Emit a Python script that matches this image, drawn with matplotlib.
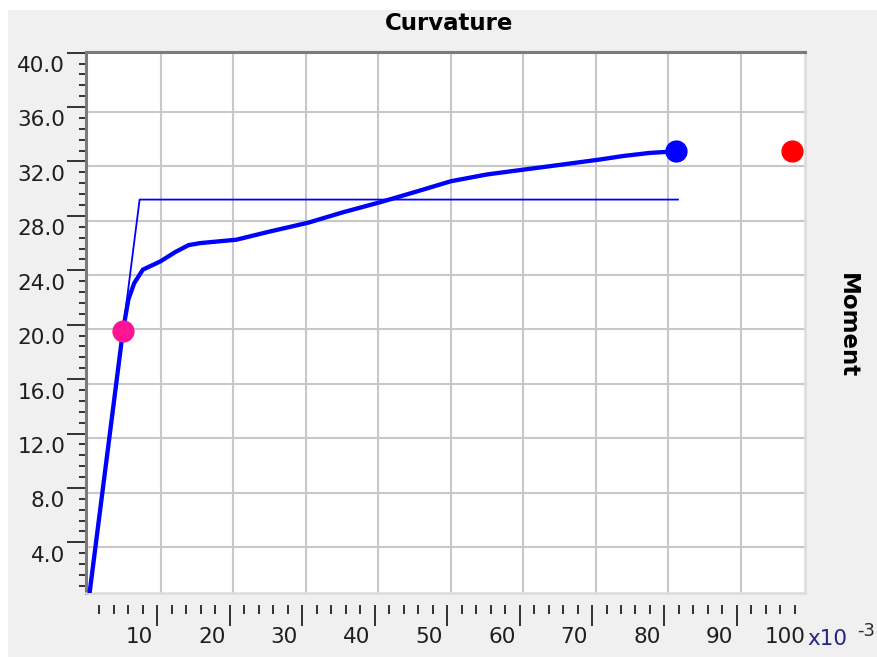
import matplotlib
matplotlib.use("Agg")
import matplotlib.pyplot as plt
import matplotlib.transforms as mtransforms
from matplotlib.patches import Rectangle
from matplotlib.ticker import MultipleLocator

# Moment-curvature response (curvature in x10^-3)
curv = [0.0, 4.75, 5.5, 6.3, 7.5, 9.9, 12.0, 13.8, 15.4, 20.4, 25.0, 30.3,
        35.0, 40.2, 45.0, 50.0, 55.0, 60.0, 65.0, 70.6, 73.7, 77.4, 81.1]
moment = [0.0, 19.9, 22.2, 23.4, 24.4, 25.0, 25.7, 26.2, 26.35, 26.6, 27.2, 27.85,
          28.6, 29.35, 30.1, 30.9, 31.4, 31.75, 32.1, 32.5, 32.75, 32.98, 33.1]

# idealised bilinear fit
bilin_curv = [0.0, 7.05, 81.3]
bilin_moment = [0.0, 29.55, 29.55]

# marked points
first_yield = (4.75, 19.9)
ultimate = (81.1, 33.1)
failure = (97.1, 33.1)

x_labels = [10, 20, 30, 40, 50, 60, 70, 80, 90, 100]
y_labels = [4.0, 8.0, 12.0, 16.0, 20.0, 24.0, 28.0, 32.0, 36.0, 40.0]

W, H = 877, 657
fig = plt.figure(figsize=(W / 100, H / 100), dpi=100)
fig.patch.set_facecolor("white")
fig.add_artist(Rectangle((8 / W, 0), 1, (H - 10) / H, transform=fig.transFigure,
                         facecolor="#f0f0f0", edgecolor="none", zorder=-10))

ax = fig.add_axes([86 / W, (H - 593) / H, 719 / W, 541 / H])
ax.set_facecolor("white")
ax.set_xlim(-0.345, 98.83)
ax.set_ylim(0.625, 40.4)

# grid only on the main axes
ax.set_xticks(x_labels[:-1])
ax.set_yticks(y_labels[:-1])
ax.tick_params(length=0, labelbottom=False, labelleft=False)
ax.grid(True, color="#c8c8c8", linewidth=1.5)
ax.set_axisbelow(True)

for side in ["left", "top"]:
    ax.spines[side].set_color("#7a7a7a")
    ax.spines[side].set_linewidth(2.2)
for side in ["right", "bottom"]:
    ax.spines[side].set_color("#dcdcdc")
    ax.spines[side].set_linewidth(1.8)

ax.plot(bilin_curv, bilin_moment, color="#0000ff", linewidth=1.3, zorder=3)
ax.plot(curv, moment, color="#0000ff", linewidth=3.1, zorder=4)
ax.plot(*first_yield, "o", color="#ff1493", markersize=15, zorder=5)
ax.plot(*ultimate, "o", color="#0000ff", markersize=15, zorder=5)
ax.plot(*failure, "o", color="#ff0000", markersize=15, zorder=5, clip_on=False)

# ruler-style tick axes, slightly offset from the grid
secx = ax.secondary_xaxis(-0.022, functions=(lambda x: x + 0.55, lambda x: x - 0.55))
secx.xaxis.set_major_locator(MultipleLocator(10))
secx.xaxis.set_minor_locator(MultipleLocator(2))
secx.tick_params(which="major", direction="out", length=15, width=1.3, color="#222222",
                 labelbottom=False)
secx.tick_params(which="minor", direction="out", length=6.5, width=1.3, color="#222222")
for s in secx.spines.values():
    s.set_visible(False)

secy = ax.secondary_yaxis(0, functions=(lambda y: y - 0.35, lambda y: y + 0.35))
secy.yaxis.set_major_locator(MultipleLocator(4))
secy.yaxis.set_minor_locator(MultipleLocator(0.8))
secy.tick_params(which="major", direction="out", length=13.5, width=1.3, color="#222222",
                 labelleft=False)
secy.tick_params(which="minor", direction="out", length=5, width=1.3, color="#222222")
for s in secy.spines.values():
    s.set_visible(False)

label_color = "#1e1e1e"
xtrans = mtransforms.blended_transform_factory(ax.transData, ax.transAxes)
for v in x_labels:
    ax.text(v - 1.1, -0.063, f"{v}", transform=xtrans, ha="right", va="top",
            fontsize=15.5, color=label_color, clip_on=False)
ytrans = mtransforms.blended_transform_factory(ax.transAxes, ax.transData)
for v in y_labels:
    ax.text(-0.029, v + 0.1, f"{v:.1f}", transform=ytrans, ha="right", va="top",
            fontsize=15.5, color=label_color, clip_on=False)

fig.text(449 / W, 1 - 30 / H, "Curvature", ha="center", va="baseline",
         fontsize=16.5, fontweight="bold", color="black")
fig.text(847 / W, 1 - 326 / H, "Moment", ha="center", va="center", rotation=-90,
         fontsize=16.5, fontweight="bold", color="black")
fig.text(807 / W, 1 - 639 / H, "x10", ha="left", va="center", fontsize=15.5,
         color="#262680")
fig.text(875 / W, 1 - 631 / H, "-3", ha="right", va="center", fontsize=13,
         color="#2b2b2b")

fig.savefig("out.png", dpi=100)
